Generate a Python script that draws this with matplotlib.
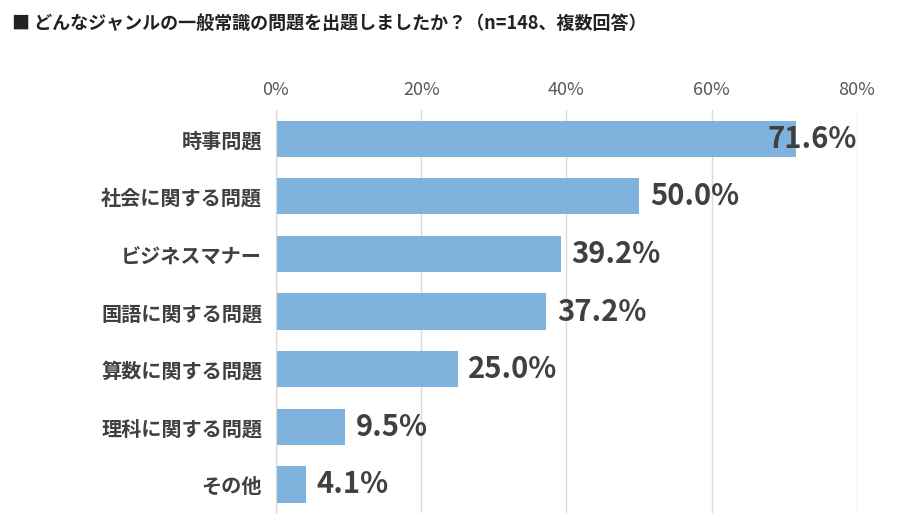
import matplotlib
matplotlib.use('Agg')
import matplotlib.pyplot as plt

plt.rcParams['font.family'] = 'Noto Sans CJK JP'

categories = ['時事問題', '社会に関する問題', 'ビジネスマナー', '国語に関する問題',
              '算数に関する問題', '理科に関する問題', 'その他']
values = [71.6, 50.0, 39.2, 37.2, 25.0, 9.5, 4.1]
ticks = [0, 20, 40, 60, 80]
tick_labels = ['0%', '20%', '40%', '60%', '80%']

fig = plt.figure(figsize=(9.15, 5.21), dpi=100)
ax = fig.add_axes([0.3016, 0.015, 0.635, 0.774])

ypos = list(range(len(categories)))
ax.barh(ypos, values, height=0.63, color='#7FB2DC', zorder=2)
ax.set_ylim(len(categories) - 0.5, -0.5)
ax.set_xlim(0, 80)

for y, v in zip(ypos, values):
    label = f'{v:.1f}%'
    if v > 65:
        # label would overflow the plot area, pull it back inside
        ax.text(80, y, label, va='center', ha='right', fontsize=21,
                fontweight='bold', color='#404040', zorder=3)
    else:
        ax.text(v + 1.5, y, label, va='center', ha='left', fontsize=21,
                fontweight='bold', color='#404040', zorder=3)

ax.set_yticks(ypos)
ax.set_yticklabels(categories, fontsize=14.5, fontweight='bold', color='#404040')
ax.set_xticks(ticks)
ax.set_xticklabels(tick_labels, fontsize=13, color='#595959')
ax.xaxis.tick_top()
ax.tick_params(length=0, pad=8)
ax.tick_params(axis='y', pad=10)
ax.grid(axis='x', color='#D9D9D9', linewidth=1, zorder=0)
for s in ['top', 'right', 'bottom']:
    ax.spines[s].set_visible(False)
ax.spines['left'].set_color('#D9D9D9')

fig.text(0.013, 0.955, '■ どんなジャンルの一般常識の問題を出題しましたか？（n=148、複数回答）',
         fontsize=13, fontweight='bold', color='#222222', va='center')

fig.savefig('out.png', dpi=100)
